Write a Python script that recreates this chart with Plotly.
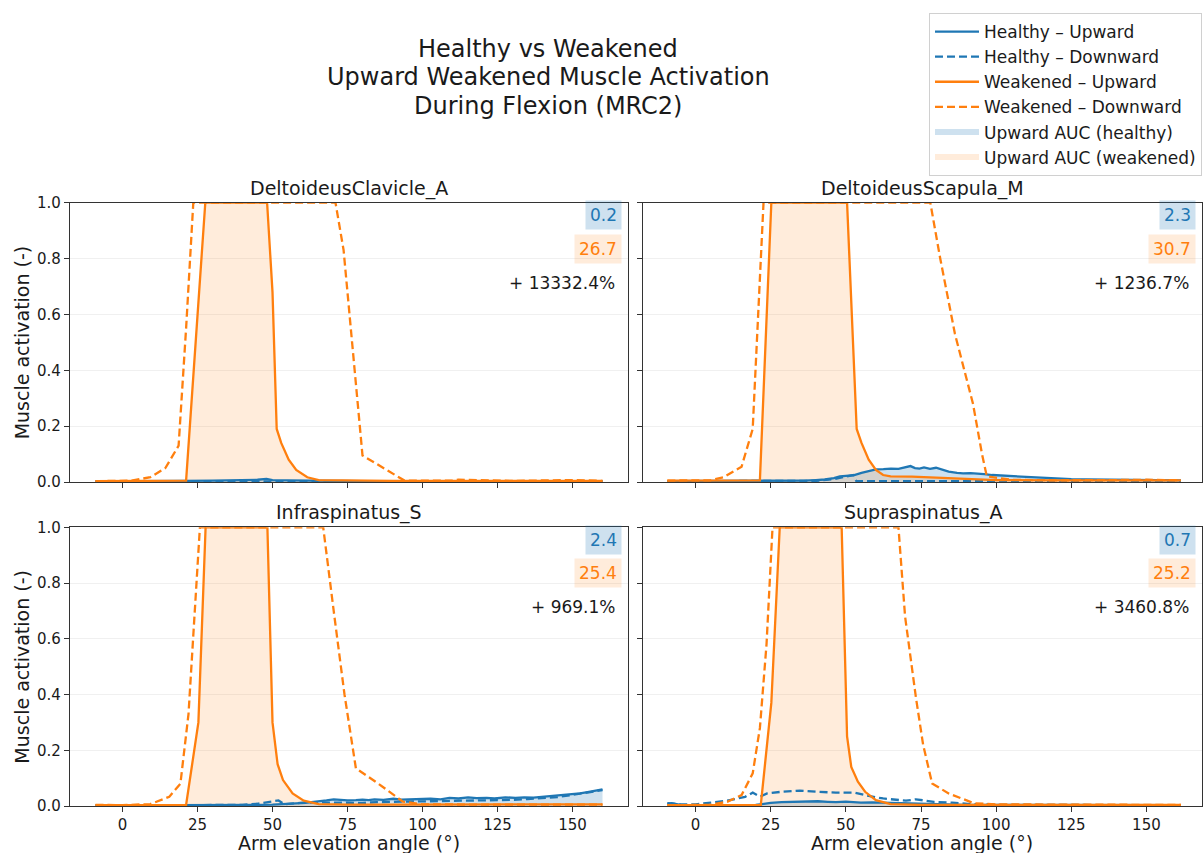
import plotly.graph_objects as go
from plotly.subplots import make_subplots

# ---------------- data ----------------
MUSCLES = ["DeltoideusClavicle_A", "DeltoideusScapula_M", "Infraspinatus_S", "Supraspinatus_A"]
AUC_HEALTHY = [0.2, 2.3, 2.4, 0.7]
AUC_WEAKENED = [26.7, 30.7, 25.4, 25.2]
AUC_CHANGE = [13332.4, 1236.7, 969.1, 3460.8]
X_TICKS = [0, 25, 50, 75, 100, 125, 150]
Y_TICKS = [0.0, 0.2, 0.4, 0.6, 0.8, 1.0]
TITLE_LINES = ["Healthy vs Weakened", "Upward Weakened Muscle Activation", "During Flexion (MRC2)"]

# DeltoideusClavicle_A
DC_H_UP_X = [-9, 0, 10, 20, 30, 38, 42, 45, 48, 50, 55, 60, 70, 80, 100, 120, 140, 160]
DC_H_UP_Y = [0.002, 0.002, 0.003, 0.004, 0.005, 0.006, 0.009, 0.008, 0.011, 0.007, 0.006, 0.005, 0.004, 0.003, 0.003, 0.003, 0.003, 0.003]
DC_H_DN_X = [-9, 0, 20, 40, 60, 80, 100, 120, 140, 160]
DC_H_DN_Y = [0.002, 0.002, 0.002, 0.003, 0.003, 0.002, 0.002, 0.002, 0.002, 0.002]
DC_W_UP_X = [-9, 0, 10, 21.2, 27.6, 48.2, 50, 51.4, 52.9, 55.4, 57.9, 61.6, 65.4, 75, 90, 110, 130, 150, 160]
DC_W_UP_Y = [0.003, 0.004, 0.004, 0.005, 1.0, 1.0, 0.68, 0.19, 0.14, 0.08, 0.043, 0.017, 0.007, 0.005, 0.004, 0.004, 0.004, 0.005, 0.004]
DC_W_DN_X = [-9, 0, 3, 9.3, 14.3, 18.7, 21.2, 23.6, 71, 73.7, 80, 94, 110, 112, 130, 150, 160]
DC_W_DN_Y = [0.003, 0.003, 0.005, 0.017, 0.05, 0.13, 0.55, 1.0, 1.0, 0.83, 0.095, 0.005, 0.005, 0.008, 0.004, 0.007, 0.004]

# DeltoideusScapula_M
DS_H_UP_X = [-9.4, 0, 10, 20, 30, 36, 40, 43, 46, 48, 50, 52.8, 55.2, 57.5, 60, 62.5, 65, 67.5, 69.7, 71.5, 73, 74.5,
             76, 78, 80, 82, 84.2, 87, 89, 91.5, 93.8, 96, 98.7, 102, 106, 110.7, 115, 119, 125, 130, 140, 150, 161.5]
DS_H_UP_Y = [0.003, 0.003, 0.003, 0.004, 0.004, 0.005, 0.007, 0.009, 0.014, 0.02, 0.022, 0.025, 0.033, 0.04, 0.045, 0.046,
             0.048, 0.047, 0.052, 0.057, 0.05, 0.048, 0.052, 0.047, 0.051, 0.045, 0.037, 0.033, 0.031, 0.032, 0.031, 0.028,
             0.025, 0.023, 0.021, 0.016, 0.014, 0.012, 0.01, 0.009, 0.008, 0.007, 0.006]
DS_H_DN_X = [-9.4, 0, 20, 40, 46, 50, 52.5, 53.5, 60, 80, 100, 120, 140, 161.5]
DS_H_DN_Y = [0.003, 0.003, 0.003, 0.004, 0.01, 0.02, 0.025, 0.003, 0.003, 0.003, 0.003, 0.003, 0.003, 0.003]
DS_W_UP_X = [-9.4, 0, 10, 21.4, 25.2, 50.4, 53.6, 55.2, 57.6, 60, 62.4, 64.9, 72, 77, 83, 89, 100, 120, 140, 161.5]
DS_W_UP_Y = [0.005, 0.005, 0.005, 0.006, 1.0, 1.0, 0.19, 0.14, 0.08, 0.043, 0.025, 0.02, 0.019, 0.017, 0.012, 0.01,
             0.007, 0.006, 0.006, 0.006]
DS_W_DN_X = [-9.4, 0, 5, 9.3, 15.3, 19, 20.8, 22.6, 78.1, 81.4, 86.3, 92.3, 95.3, 96.9, 105, 120, 140, 150, 161.5]
DS_W_DN_Y = [0.005, 0.004, 0.006, 0.017, 0.055, 0.19, 0.57, 1.0, 1.0, 0.80, 0.53, 0.28, 0.10, 0.02, 0.008, 0.006, 0.007,
             0.008, 0.006]

# Infraspinatus_S
IS_H_UP_X = [-9, 0, 10, 20, 30, 40, 45, 50, 55, 57.9, 61, 63, 65.4, 68, 70.4, 73, 75, 77.8, 80, 82, 84, 87, 90.3, 93,
             96.5, 99, 102.7, 106, 109, 112, 115.2, 118, 121.4, 124, 127.6, 131, 133.9, 137, 140, 143, 146.3, 149, 152.5,
             155, 157.5, 160]
IS_H_UP_Y = [0.002, 0.002, 0.002, 0.002, 0.003, 0.003, 0.004, 0.005, 0.007, 0.01, 0.011, 0.014, 0.016, 0.02, 0.024,
             0.022, 0.02, 0.021, 0.023, 0.021, 0.024, 0.022, 0.026, 0.023, 0.024, 0.027, 0.026, 0.024, 0.029, 0.027,
             0.031, 0.028, 0.029, 0.027, 0.031, 0.029, 0.031, 0.03, 0.033, 0.034, 0.039, 0.041, 0.045, 0.05, 0.054, 0.06]
IS_H_DN_X = [-9, 0, 10, 20, 30, 40, 45, 48, 50.4, 52, 54, 57, 60, 65, 70, 75, 80, 85, 90, 95, 100, 105, 110, 115, 120,
             125, 130, 135, 140, 145, 150, 155, 160]
IS_H_DN_Y = [0.002, 0.002, 0.002, 0.003, 0.003, 0.004, 0.008, 0.013, 0.019, 0.02, 0.006, 0.01, 0.012, 0.013, 0.012,
             0.013, 0.011, 0.014, 0.015, 0.014, 0.016, 0.017, 0.018, 0.02, 0.021, 0.02, 0.022, 0.025, 0.028, 0.032, 0.04,
             0.048, 0.057]
IS_W_UP_X = [-9, 0, 10, 21.2, 25.3, 27.7, 48.3, 50, 51.7, 53.5, 56.7, 60.4, 65.4, 75, 90, 110, 130, 150, 160]
IS_W_UP_Y = [0.003, 0.003, 0.003, 0.004, 0.30, 1.0, 1.0, 0.30, 0.15, 0.093, 0.045, 0.019, 0.007, 0.005, 0.005, 0.005,
             0.006, 0.006, 0.006]
IS_W_DN_X = [-9, 0, 9.3, 15.6, 19.3, 22.0, 25.8, 66.9, 70.4, 74, 77.8, 85.3, 93.4, 100, 120, 140, 160]
IS_W_DN_Y = [0.004, 0.003, 0.007, 0.033, 0.08, 0.33, 1.0, 1.0, 0.70, 0.40, 0.135, 0.08, 0.016, 0.006, 0.005, 0.005, 0.005]

# Supraspinatus_A
SA_H_UP_X = [-9.4, -8, -5, 0, 10, 20, 22, 25, 28.6, 31, 34.7, 37, 40.7, 44, 46.7, 50, 52.8, 55, 58.8, 62, 64.9, 68,
             70.9, 74, 77, 80, 90, 100, 120, 140, 161.5]
SA_H_UP_Y = [0.008, 0.01, 0.004, 0.003, 0.003, 0.004, 0.007, 0.011, 0.014, 0.015, 0.016, 0.017, 0.017, 0.015, 0.014,
             0.016, 0.014, 0.012, 0.013, 0.012, 0.012, 0.011, 0.01, 0.008, 0.007, 0.005, 0.004, 0.004, 0.003, 0.003, 0.003]
SA_H_DN_X = [-9.4, -5, 0, 4.5, 10.5, 16.5, 19, 21.4, 23.8, 28.6, 34.7, 40.7, 46.7, 52.8, 57.6, 62.4, 67.3, 70, 73.3, 76,
             79.3, 85.4, 91.4, 101, 120, 140, 161.5]
SA_H_DN_Y = [0.01, 0.006, 0.006, 0.012, 0.019, 0.033, 0.048, 0.033, 0.045, 0.051, 0.055, 0.051, 0.048, 0.048, 0.036,
             0.027, 0.021, 0.019, 0.024, 0.02, 0.015, 0.012, 0.007, 0.004, 0.003, 0.003, 0.003]
SA_W_UP_X = [-9.4, 0, 10, 21.7, 25.2, 28, 48.6, 50.4, 51.8, 54, 56.4, 60, 64.9, 75, 90, 110, 130, 150, 161.5]
SA_W_UP_Y = [0.003, 0.003, 0.003, 0.004, 0.37, 1.0, 1.0, 0.25, 0.14, 0.087, 0.051, 0.021, 0.007, 0.004, 0.004, 0.004,
             0.004, 0.004, 0.004]
SA_W_DN_X = [-9.4, 0, 4.5, 10.5, 15.3, 19, 21.4, 23.6, 25.6, 67.5, 69.7, 73.3, 75.7, 78.7, 84.2, 92.6, 100, 120, 140, 161.5]
SA_W_DN_Y = [0.003, 0.003, 0.004, 0.015, 0.039, 0.117, 0.28, 0.58, 1.0, 1.0, 0.68, 0.39, 0.22, 0.081, 0.045, 0.01, 0.006,
             0.005, 0.005, 0.004]

SERIES = [
    (DC_H_UP_X, DC_H_UP_Y, DC_H_DN_X, DC_H_DN_Y, DC_W_UP_X, DC_W_UP_Y, DC_W_DN_X, DC_W_DN_Y),
    (DS_H_UP_X, DS_H_UP_Y, DS_H_DN_X, DS_H_DN_Y, DS_W_UP_X, DS_W_UP_Y, DS_W_DN_X, DS_W_DN_Y),
    (IS_H_UP_X, IS_H_UP_Y, IS_H_DN_X, IS_H_DN_Y, IS_W_UP_X, IS_W_UP_Y, IS_W_DN_X, IS_W_DN_Y),
    (SA_H_UP_X, SA_H_UP_Y, SA_H_DN_X, SA_H_DN_Y, SA_W_UP_X, SA_W_UP_Y, SA_W_DN_X, SA_W_DN_Y),
]

# ---------------- style ----------------
BLUE = "#1f77b4"
ORANGE = "#ff7f0e"
BLUE_FILL = "rgba(31,119,180,0.22)"
ORANGE_FILL = "rgba(255,127,14,0.15)"
FONT = "DejaVu Sans"
TXT = "#1a1a1a"
W, H = 1203, 853
LW = 2.3
DASH = "8px,4px"

X_DOM = [[70 / W, 628 / W], [643 / W, 1202 / W]]
Y_DOM = [[1 - 482 / H, 1 - 202.7 / H], [1 - 806 / H, 1 - 527.3 / H]]
X_RANGE = [-17.5, 168.5]
TITLE_Y_PX = [49, 77.5, 106]

fig = make_subplots(rows=2, cols=2, shared_xaxes=True, shared_yaxes=True)

for i, muscle in enumerate(MUSCLES):
    r, c = i // 2 + 1, i % 2 + 1
    hux, huy, hdx, hdy, wux, wuy, wdx, wdy = SERIES[i]
    first = i == 0
    fig.add_trace(go.Scatter(x=hux, y=huy, fill="tozeroy", mode="none", fillcolor=BLUE_FILL,
                             name="Upward AUC (healthy)", showlegend=first, legendrank=5,
                             hoverinfo="skip"), row=r, col=c)
    fig.add_trace(go.Scatter(x=wux, y=wuy, fill="tozeroy", mode="none", fillcolor=ORANGE_FILL,
                             name="Upward AUC (weakened)", showlegend=first, legendrank=6,
                             hoverinfo="skip"), row=r, col=c)
    fig.add_trace(go.Scatter(x=hux, y=huy, mode="lines", line=dict(color=BLUE, width=LW),
                             name="Healthy – Upward", showlegend=first, legendrank=1), row=r, col=c)
    fig.add_trace(go.Scatter(x=hdx, y=hdy, mode="lines", line=dict(color=BLUE, width=LW, dash=DASH),
                             name="Healthy – Downward", showlegend=first, legendrank=2), row=r, col=c)
    fig.add_trace(go.Scatter(x=wux, y=wuy, mode="lines", line=dict(color=ORANGE, width=LW),
                             name="Weakened – Upward", showlegend=first, legendrank=3), row=r, col=c)
    fig.add_trace(go.Scatter(x=wdx, y=wdy, mode="lines", line=dict(color=ORANGE, width=LW, dash=DASH),
                             name="Weakened – Downward", showlegend=first, legendrank=4), row=r, col=c)

    xs = "" if i == 0 else str(i + 1)
    # subplot title
    fig.add_annotation(text=muscle, xref=f"x{xs} domain", yref=f"y{xs} domain", x=0.5, y=1.0,
                       xanchor="center", yanchor="bottom", yshift=1, showarrow=False,
                       font=dict(family=FONT, size=19, color=TXT))
    # AUC labels
    fig.add_annotation(text=f"{AUC_HEALTHY[i]:.1f}", xref=f"x{xs} domain", yref=f"y{xs} domain",
                       x=0.98, y=0.955, xanchor="right", yanchor="middle", xshift=5, showarrow=False,
                       bgcolor=BLUE_FILL, borderpad=4, font=dict(family=FONT, size=17, color=BLUE))
    fig.add_annotation(text=f"{AUC_WEAKENED[i]:.1f}", xref=f"x{xs} domain", yref=f"y{xs} domain",
                       x=0.98, y=0.836, xanchor="right", yanchor="middle", xshift=5, showarrow=False,
                       bgcolor=ORANGE_FILL, borderpad=4, font=dict(family=FONT, size=17, color=ORANGE))
    fig.add_annotation(text=f"+ {AUC_CHANGE[i]:.1f}%", xref=f"x{xs} domain", yref=f"y{xs} domain",
                       x=0.98, y=0.714, xanchor="right", yanchor="middle", showarrow=False,
                       font=dict(family=FONT, size=17, color=TXT))

axis_common = dict(showline=True, linecolor="#333333", linewidth=1.2, mirror=True, ticks="outside",
                   ticklen=5, tickwidth=1.2, tickcolor="#333333", zeroline=False, automargin=False,
                   tickfont=dict(family=FONT, size=15, color=TXT))
for k in range(4):
    r, c = k // 2, k % 2
    suffix = "" if k == 0 else str(k + 1)
    fig.layout[f"xaxis{suffix}"].update(domain=X_DOM[c], range=X_RANGE, tickvals=X_TICKS,
                                        showgrid=False, showticklabels=(r == 1), **axis_common)
    fig.layout[f"yaxis{suffix}"].update(domain=Y_DOM[r], range=[0, 1], tickvals=Y_TICKS, tickformat=".1f",
                                        showgrid=True, gridcolor="#f0f0f0", gridwidth=1,
                                        showticklabels=(c == 0), **axis_common)

# axis titles
for c in range(2):
    fig.add_annotation(text="Arm elevation angle (°)", xref="paper", yref="paper",
                       x=(X_DOM[c][0] + X_DOM[c][1]) / 2, y=1 - 843 / H, xanchor="center", yanchor="middle",
                       showarrow=False, font=dict(family=FONT, size=19, color=TXT))
for r in range(2):
    fig.add_annotation(text="Muscle activation (-)", xref="paper", yref="paper", textangle=-90,
                       x=22 / W, y=(Y_DOM[r][0] + Y_DOM[r][1]) / 2, xanchor="center", yanchor="middle",
                       showarrow=False, font=dict(family=FONT, size=19, color=TXT))

# main title (three centred lines)
for line, ypx in zip(TITLE_LINES, TITLE_Y_PX):
    fig.add_annotation(text=line, xref="paper", yref="paper", x=548 / W, y=1 - ypx / H,
                       xanchor="center", yanchor="middle", showarrow=False,
                       font=dict(family=FONT, size=24, color=TXT))

fig.update_layout(
    width=W, height=H, margin=dict(l=0, r=0, t=0, b=0),
    paper_bgcolor="white", plot_bgcolor="white",
    font=dict(family=FONT, color=TXT),
    showlegend=True,
    legend=dict(x=1202 / W, y=1 - 13 / H, xanchor="right", yanchor="top",
                bgcolor="white", bordercolor="#d0d0d0", borderwidth=1,
                font=dict(family=FONT, size=17, color=TXT), itemwidth=44, traceorder="normal"),
)

fig.write_html("out.html", config={"displayModeBar": False},
               post_script="document.body.style.margin='0px';document.body.style.overflow='hidden';")
